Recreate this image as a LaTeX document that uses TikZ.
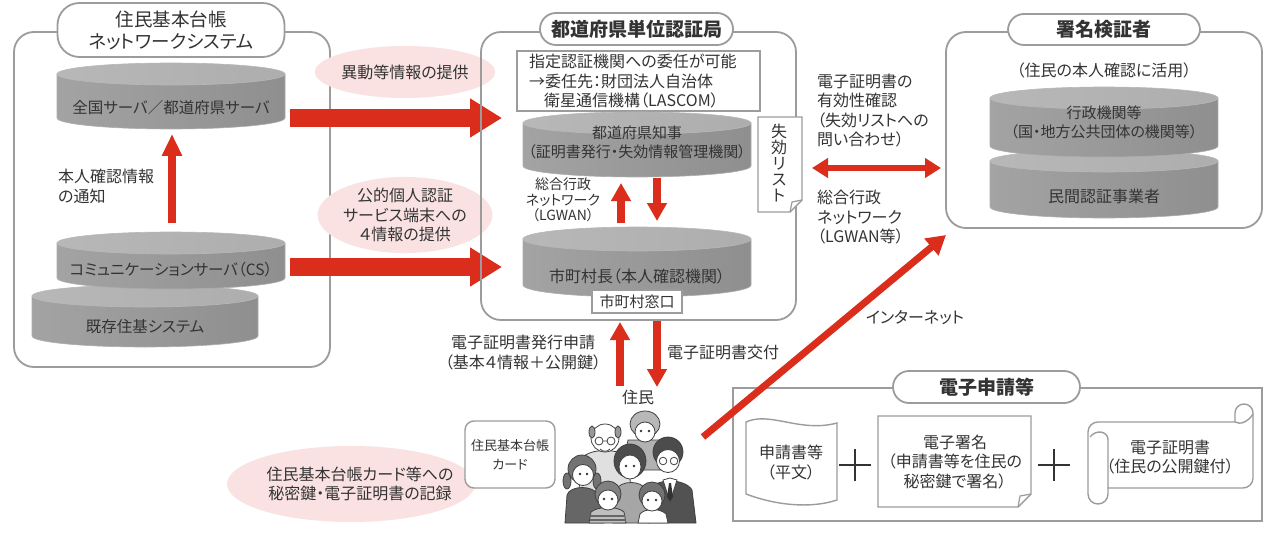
\documentclass[tikz,border=0pt]{standalone}
\usepackage{fontspec}
\setmainfont{Noto Sans CJK JP}[RawFeature=+palt]
\usetikzlibrary{arrows.meta,shapes.geometric}

\definecolor{ink}{HTML}{333333}
\definecolor{rim}{HTML}{9C9C9C}
\definecolor{flow}{HTML}{DA2D1C}
\definecolor{blush}{HTML}{FAE2E2}

% shaded drum: #1 left x, #2 right x, #3 top centre y, #4 bottom centre y, #5 half height of the ellipses
\newcommand\drum[5]{%
  \pgfmathsetmacro\drumrx{(#2-#1)/2}%
  \pgfmathsetmacro\drumxc{(#1+#2)/2}%
  \path[left color=black!36, middle color=white, right color=black!44, draw=black!32, line width=0.6]
    (#1,#3) -- (#1,#4) arc[start angle=180, end angle=0, x radius=\drumrx, y radius=#5] -- (#2,#3) -- cycle;
  \path[left color=black!28, middle color=black!10, right color=black!32, draw=black!28, line width=0.6]
    (\drumxc,#3) ellipse[x radius=\drumrx, y radius=#5];
}

\begin{document}
\begin{tikzpicture}[x=1pt,y=-1pt,
  lbl/.style={text=ink, inner sep=0, align=center, font=\fontsize{16}{19.5}\selectfont},
  small/.style={lbl, font=\fontsize{14}{15.5}\selectfont},
  panel/.style={draw=rim, line width=1.8, rounded corners=20},
  pill/.style={draw=rim, line width=1.8, fill=white, inner sep=0, text=ink, align=center},
  bubble/.style={ellipse, fill=blush, inner sep=0, text=ink, align=center, font=\fontsize{16}{19.5}\selectfont},
  paper/.style={draw=rim, line width=1.4, fill=white},
  bigflow/.style={draw=flow, line width=18, -{Triangle[length=32pt,width=37pt]}},
  thinflow/.style={draw=flow, line width=7.5, -{Triangle[length=18pt,width=19pt]}},
  fig/.style={draw=black!75, line width=0.8},
]
\fill[white] (0,0) rectangle (1265,556);
\useasboundingbox (0,0) rectangle (1265,556);

% ---------------- Juki network panel ----------------
\draw[panel] (14,32) rectangle (330,367);
\node[pill, rounded corners=22, minimum width=227, minimum height=54,
      font=\fontsize{18.5}{22}\selectfont] (jukiTitle) at (171,30) {住民基本台帳\\ネットワークシステム};

\drum{57}{285}{74}{118}{11}
\node[lbl, font=\fontsize{15.5}{19}\selectfont] (zenkoku) at (171,108) {全国サーバ／都道府県サーバ};
\drum{32}{258}{296}{336}{11}
\node[lbl, font=\fontsize{15.5}{19}\selectfont] (kizon) at (145,327) {既存住基システム};
\drum{57}{285}{243}{278}{11}
\node[lbl, font=\fontsize{15.5}{19}\selectfont] (cs) at (171,270) {コミュニケーションサーバ（CS）};

\coordinate (csTop) at (172,223);
\coordinate (zenBottom) at (172,134);
\draw[thinflow, -{Triangle[length=22pt,width=19pt]}] (csTop) -- (zenBottom);
\node[lbl, align=left, anchor=west] (tsuchi) at (58,186.5) {本人確認情報\\の通知};

% ---------------- flows into the certification authority ----------------
\node[bubble, minimum width=174, minimum height=52] (idou) at (405,72) {異動等情報の提供};
\node[bubble, minimum width=174, minimum height=74] (yon) at (405,215) {公的個人認証\\サービス端末への\\４情報の提供};
\coordinate (f1s) at (290,118);
\coordinate (f1e) at (502,118);
\coordinate (f2s) at (290,267);
\coordinate (f2e) at (502,267);
\draw[bigflow] (f1s) -- (f1e);
\draw[bigflow] (f2s) -- (f2e);

% ---------------- prefectural certification authority ----------------
\draw[panel] (481,32) rectangle (796,320);
\node[pill, rounded corners=16, minimum width=193, minimum height=32,
      font=\fontsize{19}{22}\selectfont\bfseries] (caTitle) at (636.5,29) {都道府県単位認証局};

\node[draw=rim, line width=1.2, fill=white, minimum width=243, minimum height=60, inner sep=0] (lascomBox) at (638.5,81) {};
\node[lbl, align=left, anchor=west] (lascom) at (529,81.5)
  {指定認証機関への委任が可能\\→委任先：財団法人自治体\\\hspace*{15pt}衛星通信機構（LASCOM）};

\drum{523}{751}{123}{166}{11}
\node[lbl, font=\fontsize{15}{19}\selectfont] (chiji) at (637,142.5) {都道府県知事\\（証明書発行・失効情報管理機関）};
\drum{523}{751}{239}{285}{12}
\node[lbl, font=\fontsize{16}{19}\selectfont] (choson) at (637,276) {市町村長（本人確認機関）};
\node[draw=rim, line width=1.2, fill=white, minimum width=90, minimum height=23, inner sep=0,
      text=ink, font=\fontsize{15}{18}\selectfont] (madoguchi) at (637,301.5) {市町村窓口};

\coordinate (upS) at (621,223);
\coordinate (upE) at (621,183);
\coordinate (dnS) at (657,178);
\coordinate (dnE) at (657,221);
\draw[thinflow] (upS) -- (upE);
\draw[thinflow] (dnS) -- (dnE);
\node[small] (lgwan1) at (563,200) {総合行政\\ネットワーク\\（LGWAN）};

% revocation list sheet
\path[paper] (758,117) -- (802,117) -- (802,200) -- (790,212) -- (758,212) -- cycle;
\draw[rim, line width=1.2] (790,212) -- (792,202) -- (802,200);
\node[lbl, font=\fontsize{16}{16}\selectfont] (shikko) at (779,163) {失\\効\\リ\\ス\\ト};

% ---------------- signature verifiers ----------------
\draw[panel] (946,32) rectangle (1262,228);
\node[pill, rounded corners=16, minimum width=192, minimum height=31,
      font=\fontsize{19}{22}\selectfont\bfseries] (verTitle) at (1104,29.5) {署名検証者};
\node[lbl] (katsuyo) at (1104,70) {（住民の本人確認に活用）};
\drum{990}{1218}{161}{207}{11}
\node[lbl] (minkan) at (1104,196) {民間認証事業者};
\drum{990}{1218}{98}{146}{11}
\node[lbl, font=\fontsize{15}{19}\selectfont] (gyosei) at (1104,122.5) {行政機関等\\（国・地方公共団体の機関等）};

\coordinate (vL) at (812,168);
\coordinate (vR) at (941,168);
\draw[draw=flow, line width=6.5, {Triangle[length=16pt,width=19pt]}-{Triangle[length=16pt,width=19pt]}] (vL) -- (vR);
\node[lbl, align=left, anchor=west] (yuko) at (817,110.5) {電子証明書の\\有効性確認\\（失効リストへの\\問い合わせ）};
\node[lbl, align=left, anchor=west] (lgwan2) at (817,217.5) {総合行政\\ネットワーク\\（LGWAN等）};

% ---------------- residents ----------------
\coordinate (rUpS) at (620,386);
\coordinate (rUpE) at (620,322);
\coordinate (rDnS) at (657,321);
\coordinate (rDnE) at (657,387);
\draw[thinflow] (rUpS) -- (rUpE);
\draw[thinflow] (rDnS) -- (rDnE);
\node[lbl] (shinsei) at (523,352.5) {電子証明書発行申請\\（基本４情報＋公開鍵）};
\node[lbl, anchor=west] (kofu) at (667,352) {電子証明書交付};
\node[lbl] (jumin) at (638,397) {住民};

\node[bubble, minimum width=248, minimum height=76] (kiroku) at (351,484) {};
\node[lbl] (kirokuText) at (360,484) {住民基本台帳カード等への\\秘密鍵・電子証明書の記録};
\node[draw=rim, line width=1.4, fill=white, rounded corners=9, minimum width=90, minimum height=67,
      inner sep=0, text=ink, align=center, font=\fontsize{13}{19}\selectfont] (card) at (510,454.5) {住民基本台帳\\カード};

% family group
\path[fig, fill=black!30] (628,440) -- (664,440) -- (670,470) -- (622,470) -- cycle;
\path[fig, fill=black!28] (645,424) ellipse[x radius=15, y radius=13];
\path[fig, fill=white] (645,432) circle[radius=10];
\path[fig, fill=black!12] (582,458) .. controls (590,448) and (620,448) .. (628,458) -- (632,500) -- (578,500) -- cycle;
\path[fig, fill=white] (605,438) circle[radius=14];
\path[fig, fill=black!40] (592,432) ellipse[x radius=3, y radius=6];
\path[fig, fill=black!40] (618,432) ellipse[x radius=3, y radius=6];
\draw[black!75, line width=0.8] (599,441) circle[radius=4] (611,441) circle[radius=4] (603,441) -- (607,441);
\draw[black!75, line width=0.8] (600,449) .. controls (603,452) and (607,452) .. (610,449);
\path[fig, fill=black!60] (565,523) -- (567,495) .. controls (570,485) and (594,485) .. (598,495) -- (604,523) -- cycle;
\path[fig, fill=black!55] (567,481) ellipse[x radius=4, y radius=8];
\path[fig, fill=black!55] (597,481) ellipse[x radius=4, y radius=8];
\path[fig, fill=black!55] (582,469) circle[radius=14];
\path[fig, fill=white] (583,475) circle[radius=10.5];
\path[fig, fill=black!68] (648,523) -- (650,490) .. controls (655,478) and (685,478) .. (692,490) -- (696,523) -- cycle;
\path[fig, fill=white] (663,480) -- (670,478) -- (677,480) -- (670,502) -- cycle;
\fill[black!80] (669,483) -- (671,483) -- (673,497) -- (670,501) -- (667,497) -- cycle;
\path[fig, fill=black!70] (668,452) circle[radius=15];
\path[fig, fill=white] (668,461) circle[radius=11.5];
\draw[black!75, line width=0.8] (663,461) circle[radius=3.8] (674,461) circle[radius=3.8];
\path[fig, fill=black!35] (613,523) -- (616,490) .. controls (620,480) and (642,480) .. (646,490) -- (649,523) -- cycle;
\path[fig, fill=black!70] (630,461) ellipse[x radius=16, y radius=17];
\path[fig, fill=white] (630,467) ellipse[x radius=11, y radius=12];
\path[fig, fill=black!25] (589,523) -- (591,512) .. controls (598,506) and (618,506) .. (624,512) -- (626,523) -- cycle;
\draw[black!60, line width=1.2] (590,516) -- (625,516) (590,520) -- (626,520);
\path[fig, fill=black!50] (608,494) circle[radius=13];
\path[fig, fill=white] (608,500) circle[radius=10];
\path[fig, fill=white] (638,523) -- (640,514) .. controls (645,508) and (660,508) .. (666,514) -- (668,523) -- cycle;
\path[fig, fill=black!55] (652,495) circle[radius=13];
\path[fig, fill=white] (652,501) circle[radius=10];
\foreach \ex/\ey in {580/474, 587/474, 626/466, 634/466, 604/499, 612/499, 648/500, 656/500, 641/431, 649/431}
  \fill[black!80] (\ex,\ey) circle[radius=1.3];

% ---------------- electronic application ----------------
\draw[draw=rim, line width=1.8] (733,388) rectangle (1262,521);
\node[pill, rounded corners=16, minimum width=187, minimum height=32,
      font=\fontsize{19}{22}\selectfont\bfseries] (appTitle) at (986.5,387) {電子申請等};

\path[paper] (746,422) .. controls (770,411) and (800,433) .. (837,423) -- (837,500)
  .. controls (810,509) and (775,505) .. (746,494) -- cycle;
\node[lbl] (heibun) at (791,462.5) {申請書等\\（平文）};
\draw[black!80, line width=2] (855,449) -- (855,481) (839,465) -- (871,465);

\path[paper] (878,416) -- (1031,416) -- (1031,494) -- (1018,507) -- (878,507) -- cycle;
\draw[rim, line width=1.2] (1018,507) -- (1020,496) -- (1031,494);
\node[lbl] (shomei) at (955,462) {電子署名\\（申請書等を住民の\\秘密鍵で署名）};
\draw[black!80, line width=2] (1054,449) -- (1054,481) (1038,465) -- (1070,465);

\path[paper] (1098,422) -- (1235,422) -- (1235,413) arc[start angle=180, end angle=360, radius=9]
  -- (1253,478) arc[start angle=0, end angle=90, radius=10] -- (1108,488)
  -- (1108,494) arc[start angle=0, end angle=180, radius=10] -- (1088,432)
  arc[start angle=180, end angle=270, radius=10] -- cycle;
\draw[rim, line width=1.4] (1090,437) .. controls (1096,429) and (1108,431) .. (1108,440) -- (1108,488);
\draw[rim, line width=1.4] (1235,422) .. controls (1240,425) and (1248,422) .. (1253,414);
\node[lbl] (shomeisho) at (1170,457) {電子証明書\\（住民の公開鍵付）};

% internet link
\coordinate (netS) at (703,437);
\coordinate (netE) at (946,235);
\draw[draw=flow, line width=7, -{Triangle[length=19pt,width=21pt]}] (netS) -- (netE);
\node[lbl] (internet) at (915,318) {インターネット};
\end{tikzpicture}
\end{document}
